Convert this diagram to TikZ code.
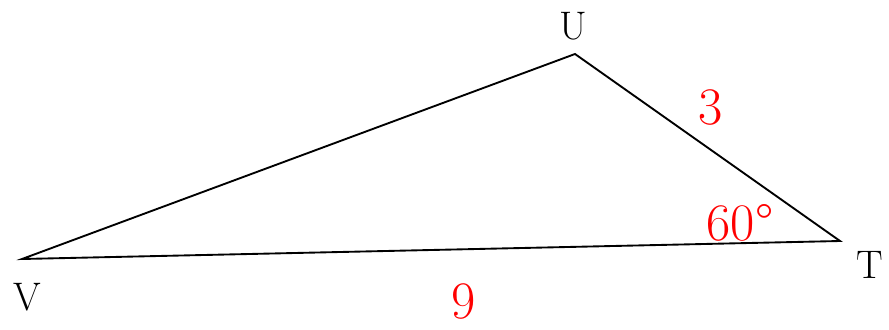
\documentclass[tikz,border=0pt]{standalone}
\usepackage{tikz}
\usetikzlibrary{positioning}
\definecolor{sidered}{RGB}{255,0,0}

\begin{document}
\begin{tikzpicture}[x=0.03cm, y=-0.03cm,
    vertexlabel/.style={inner sep=0pt, font=\fontsize{34}{38}\selectfont},
    measurelabel/.style={inner sep=0pt, text=sidered, font=\fontsize{45}{50}\selectfont}]
  % Canvas
  \useasboundingbox (0,0) rectangle (889,329);
  % Vertices
  \coordinate (V) at (22,259);
  \coordinate (U) at (575,54);
  \coordinate (T) at (840,241);
  % Triangle
  \draw[line width=1.6pt, line join=miter] (V) -- (U) -- (T) -- cycle;
  % Vertex labels
  \node[vertexlabel] (labU) at (573,26) {U};
  \node[vertexlabel] (labV) at (27,297) {V};
  \node[vertexlabel] (labT) at (870,265) {T};
  % Side lengths and angle
  \node[measurelabel] (sideUT) at (711,107) {3};
  \node[measurelabel] (angT) at (740,223) {60°};
  \node[measurelabel] (sideVT) at (464,301) {9};
\end{tikzpicture}
\end{document}
